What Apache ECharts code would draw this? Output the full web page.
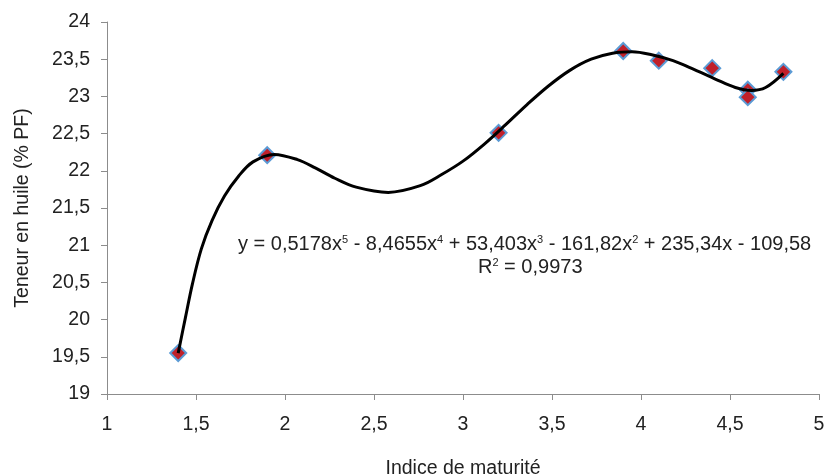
<!DOCTYPE html>
<html>
<head>
<meta charset="utf-8">
<script src="https://cdn.jsdelivr.net/npm/echarts@6/dist/echarts.min.js"></script>
<style>html,body{margin:0;padding:0;background:#fff;}#c{width:826px;height:474px;}</style>
</head>
<body>
<div id="c"></div>
<script>
// Observed data points
var pointsX = [1.4, 1.9, 3.2, 3.9, 4.1, 4.4, 4.6, 4.6, 4.8];
var pointsY = [19.55, 22.21, 22.51, 23.61, 23.48, 23.38, 23.09, 22.99, 23.33];
// Trend curve
var curveX = [1.40, 1.44, 1.48, 1.53, 1.59, 1.66, 1.74, 1.82, 1.94, 2.07, 2.17, 2.28, 2.40, 2.58, 2.76, 2.88, 3.00, 3.12, 3.24, 3.36, 3.48, 3.60, 3.72, 3.84, 3.95, 4.06, 4.18, 4.30, 4.42, 4.53, 4.62, 4.70, 4.80];
var curveY = [19.55, 20.02, 20.48, 20.95, 21.33, 21.66, 21.93, 22.12, 22.22, 22.15, 22.04, 21.90, 21.78, 21.71, 21.80, 21.95, 22.13, 22.36, 22.62, 22.89, 23.14, 23.35, 23.50, 23.58, 23.60, 23.56, 23.48, 23.36, 23.23, 23.12, 23.08, 23.12, 23.31];
// Axis ticks
var xMin = 1, xMax = 5, xStep = 0.5;
var yMin = 19, yMax = 24, yStep = 0.5;
var xTitle = 'Indice de maturité';
var yTitle = 'Teneur en huile (% PF)';

function pairs(xs, ys){ return xs.map(function(x,i){ return [x, ys[i]]; }); }
function fr(v){ return String(v).replace('.', ','); }

var chart = echarts.init(document.getElementById('c'), null, {renderer:'canvas'});
var font = 'Liberation Sans, Arial, Helvetica, sans-serif';
var fs = 19.5;
var axisColor = '#8c8c8c';
var txt = '#222';
chart.setOption({
  animation: false,
  backgroundColor: '#fff',
  textStyle: {fontFamily: font},
  grid: {left: 107, right: 7, top: 22, bottom: 80, containLabel: false, outerBoundsMode: 'none'},
  xAxis: {
    type: 'value', min: xMin, max: xMax, interval: xStep,
    name: xTitle, nameLocation: 'middle', nameGap: 65,
    nameTextStyle: {fontSize: fs, color: txt, fontFamily: font},
    axisLine: {show: true, lineStyle: {color: axisColor, width: 1}},
    axisTick: {show: true, length: 6, lineStyle: {color: axisColor}},
    axisLabel: {fontSize: fs, color: txt, margin: 21, formatter: fr, fontFamily: font},
    splitLine: {show: false}
  },
  yAxis: {
    type: 'value', min: yMin, max: yMax, interval: yStep,
    name: yTitle, nameLocation: 'middle', nameGap: 74,
    nameTextStyle: {fontSize: fs, color: txt, fontFamily: font},
    axisLine: {show: true, lineStyle: {color: axisColor, width: 1}},
    axisTick: {show: true, length: 6, lineStyle: {color: axisColor}},
    axisLabel: {fontSize: fs, color: txt, margin: 17, formatter: fr, fontFamily: font},
    splitLine: {show: false}
  },
  series: [
    {
      type: 'scatter', data: pairs(pointsX, pointsY), symbol: 'diamond', symbolSize: 16,
      itemStyle: {color: '#c0202a', borderColor: '#5b9bd5', borderWidth: 2, opacity: 1}, z: 2
    },
    {
      type: 'line', data: pairs(curveX, curveY), smooth: 0.35, showSymbol: false, symbol: 'none',
      lineStyle: {color: '#000', width: 3}, z: 3
    }
  ],
  graphic: [
    {
      type: 'text', left: 238, top: 234, z: 10,
      style: {
        text: '{n|y = 0,5178x}{s|5}{n| - 8,4655x}{s|4}{n| + 53,403x}{s|3}{n| - 161,82x}{s|2}{n| + 235,34x - 109,58}',
        rich: {
          n: {fontSize: 20, fill: txt, fontFamily: font},
          s: {fontSize: 11, fill: txt, fontFamily: font, verticalAlign: 'top', padding: [0,0,9,0]}
        }
      }
    },
    {
      type: 'text', left: 478, top: 257, z: 10,
      style: {
        text: '{n|R}{s|2}{n| = 0,9973}',
        rich: {
          n: {fontSize: 20, fill: txt, fontFamily: font},
          s: {fontSize: 11, fill: txt, fontFamily: font, verticalAlign: 'top', padding: [0,0,9,0]}
        }
      }
    }
  ]
});
</script>
</body>
</html>
